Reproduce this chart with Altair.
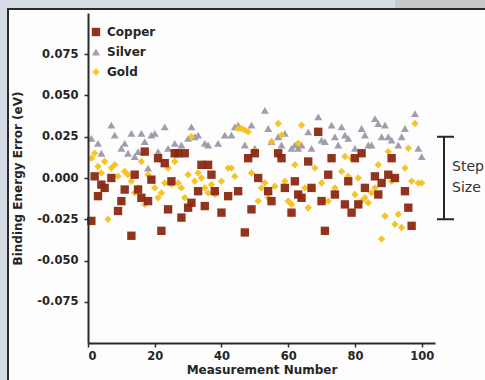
import altair as alt
import pandas as pd

# Binding energy error per measurement, one pair of lists per metal
copper_x = [1, 2, 3, 4, 5, 7, 9, 10, 11, 13, 14, 15, 16, 17, 18, 19, 21, 22, 23, 24,
            25, 26, 27, 28, 29, 30, 31, 33, 34, 35, 36, 37, 38, 40, 42, 45, 47, 48, 49, 50,
            51, 54, 55, 57, 58, 59, 61, 62, 63, 64, 66, 67, 69, 70, 71, 72, 73, 74, 77, 78,
            79, 80, 81, 82, 83, 86, 87, 88, 90, 91, 92, 95, 96, 97]
copper_y = [-0.026, 0.001, -0.011, -0.004, -0.006, 0.000, -0.020, -0.014, -0.007, -0.035,
            0.002, -0.007, -0.012, 0.016, -0.014, -0.001, 0.012, -0.032, 0.009, -0.019,
            -0.002, 0.015, 0.015, -0.024, 0.015, -0.018, -0.015, -0.008, 0.008, -0.017,
            0.008, 0.002, -0.008, -0.021, -0.011, -0.008, -0.033, 0.012, -0.019, 0.015,
            0.000, -0.008, -0.014, 0.015, 0.012, -0.006, -0.021, -0.002, -0.010, -0.012,
            0.010, -0.006, 0.028, -0.014, -0.032, 0.002, 0.012, -0.010, -0.016, -0.002,
            -0.021, 0.012, -0.016, 0.015, -0.006, 0.001, -0.010, -0.003, 0.002, 0.012,
            0.000, -0.008, -0.018, -0.029]

silver_x = [1, 3, 4, 7, 8, 10, 11, 12, 13, 14, 15, 16, 17, 18, 19, 20, 21, 23, 24, 26,
            28, 30, 31, 32, 33, 35, 36, 39, 41, 43, 44, 45, 47, 49, 50, 53, 54, 55, 57, 58,
            59, 61, 62, 63, 64, 66, 67, 69, 70, 71, 73, 74, 75, 76, 77, 78, 80, 82, 83, 84,
            85, 86, 87, 88, 89, 90, 91, 93, 94, 95, 98, 99, 100]
silver_y = [0.024, 0.021, 0.015, 0.032, 0.026, 0.018, 0.021, 0.015, 0.027, 0.013,
            0.016, 0.027, 0.022, 0.006, 0.026, 0.027, 0.016, 0.031, 0.018, 0.021,
            0.020, 0.024, 0.031, 0.025, 0.026, 0.021, 0.020, 0.021, 0.026, 0.026,
            0.031, 0.032, 0.020, 0.032, 0.018, 0.041, 0.030, 0.022, 0.025, 0.020,
            0.027, 0.018, 0.020, 0.018, 0.020, 0.028, 0.018, 0.037, 0.023, 0.022,
            0.032, 0.025, 0.020, 0.031, 0.026, 0.024, 0.018, 0.030, 0.026, 0.020,
            0.020, 0.036, 0.033, 0.025, 0.032, 0.025, 0.023, 0.020, 0.025, 0.030,
            0.039, 0.018, 0.013]

gold_x = [1, 2, 3, 4, 5, 6, 7, 8, 9, 10, 11, 12, 13, 14, 15, 16, 17, 18, 19, 20,
          21, 22, 23, 24, 25, 26, 27, 28, 29, 30, 31, 32, 33, 34, 35, 36, 37, 38, 40, 42,
          43, 44, 45, 46, 47, 48, 49, 50, 51, 52, 53, 54, 55, 56, 57, 58, 59, 60, 61, 62,
          63, 64, 65, 66, 68, 70, 72, 74, 76, 77, 78, 79, 80, 81, 82, 83, 84, 85, 86, 87,
          88, 89, 90, 91, 92, 93, 94, 95, 96, 97, 98, 99, 100]
gold_y = [0.012, 0.015, 0.007, 0.003, 0.010, -0.025, 0.006, 0.008, 0.001, -0.014,
          0.004, 0.002, -0.002, -0.009, -0.006, 0.010, -0.016, 0.002, -0.001, -0.006,
          -0.012, -0.009, -0.003, 0.006, -0.004, 0.010, -0.003, -0.006, -0.012, 0.002,
          0.025, -0.002, 0.003, 0.000, -0.006, -0.009, -0.004, -0.010, -0.002, 0.006,
          0.006, 0.001, 0.030, 0.030, 0.029, 0.028, 0.003, 0.016, -0.014, -0.006,
          -0.003, -0.012, 0.022, -0.005, 0.033, 0.026, -0.002, -0.014, -0.016, 0.008,
          0.021, 0.032, -0.006, -0.018, 0.006, -0.003, -0.014, -0.006, 0.004, 0.013,
          0.001, 0.012, -0.010, 0.000, -0.014, -0.012, -0.015, -0.009, -0.006, 0.008,
          -0.037, -0.023, 0.016, -0.002, -0.028, -0.022, -0.030, 0.006, 0.018, -0.002,
          0.033, -0.003, -0.003]

metals = ["Copper", "Silver", "Gold"]
metal_colors = ["#8c2812", "#9d97a9", "#f3c21c"]
metal_shapes = ["square", "triangle-up", "diamond"]

x_ticks = [0, 20, 40, 60, 80, 100]
y_ticks = [-0.075, -0.05, -0.025, 0.0, 0.025, 0.05, 0.075]

step_ends = [0.025, -0.025]
step_label = ["Step", "Size"]

# draw silver first, then gold, copper on top
rows = []
for layer, (name, xs, ys) in enumerate([("Silver", silver_x, silver_y),
                                         ("Gold", gold_x, gold_y),
                                         ("Copper", copper_x, copper_y)]):
    for xv, yv in zip(xs, ys):
        rows.append({"Measurement": xv, "Error": yv, "Metal": name, "layer": layer})
df = pd.DataFrame(rows)

W, H = 347, 330
FONT = "DejaVu Sans"
INK = "#262626"
EDGE = "#d6dce5"

x_scale = alt.Scale(domain=[0, 104], nice=False, zero=False)
y_scale = alt.Scale(domain=[-0.1, 0.1], nice=False)

one = pd.DataFrame({"k": [0]})

# tinted margin strips left and above the card, and the card's dark frame
left_strip = alt.Chart(one).mark_rect(fill=EDGE, clip=False).encode(
    x=alt.value(-90), x2=alt.value(-80), y=alt.value(-20), y2=alt.value(390)
)
top_strip = alt.Chart(one).mark_rect(fill=EDGE, clip=False).encode(
    x=alt.value(-90), x2=alt.value(307), y=alt.value(-20), y2=alt.value(-4)
)
corner = alt.Chart(one).mark_rect(fill="#c9c9c9", clip=False).encode(
    x=alt.value(307), x2=alt.value(420), y=alt.value(-20), y2=alt.value(-4)
)
frame = alt.Chart(one).mark_rect(fillOpacity=0, stroke="#2a2a2a", strokeWidth=2, clip=False).encode(
    x=alt.value(-80), x2=alt.value(420), y=alt.value(-4), y2=alt.value(390)
)

legend = alt.Legend(title=None, orient="none", legendX=2, legendY=13,
                    labelFont=FONT, labelFontSize=12, labelFontWeight="bold",
                    labelColor=INK, symbolSize=50, rowPadding=8, zindex=2,
                    symbolStrokeWidth=0, labelOffset=5)

points = alt.Chart(df).mark_point(filled=True, opacity=0.95).encode(
    x=alt.X("Measurement:Q", scale=x_scale,
            axis=alt.Axis(values=x_ticks, title="Measurement Number", format="d", zindex=1)),
    y=alt.Y("Error:Q", scale=y_scale,
            axis=alt.Axis(values=y_ticks, title="Binding Energy Error (eV)", zindex=1,
                          labelExpr="replace(format(datum.value, '.3f'), '\u2212', '-')")),
    color=alt.Color("Metal:N", scale=alt.Scale(domain=metals, range=metal_colors), legend=legend),
    shape=alt.Shape("Metal:N", scale=alt.Scale(domain=metals, range=metal_shapes), legend=legend),
    size=alt.Size("Metal:N", scale=alt.Scale(domain=metals, range=[70, 55, 65]), legend=None),
    order=alt.Order("layer:Q"),
)

# step size bracket spanning +/-0.025 eV
bracket = alt.Chart(pd.DataFrame({"top": [step_ends[0]], "bot": [step_ends[1]]})).mark_rule(
    color=INK, strokeWidth=2, clip=False
).encode(x=alt.value(356), y=alt.Y("top:Q", scale=y_scale), y2="bot:Q")

caps = alt.Chart(pd.DataFrame({"e": step_ends})).mark_rule(
    color=INK, strokeWidth=2, clip=False
).encode(x=alt.value(349), x2=alt.value(366), y=alt.Y("e:Q", scale=y_scale))

step_text = alt.Chart(pd.DataFrame({"t": ["\n".join(step_label)]})).mark_text(
    align="left", baseline="middle", font=FONT, fontSize=14, color="#333333",
    lineBreak="\n", lineHeight=21, clip=False
).encode(x=alt.value(364), y=alt.value(154), text="t:N")

chart = alt.layer(left_strip, top_strip, corner, frame, points, bracket, caps, step_text).properties(
    width=W, height=H,
    autosize=alt.AutoSizeParams(type="none"),
    padding={"left": 88, "top": 13, "right": 50, "bottom": 37},
    background="#fdfdfd",
).configure_view(stroke=None).configure_axis(
    grid=False, domainColor="#2a2a2a", domainWidth=2,
    tickColor="#2a2a2a", tickWidth=1.5, tickSize=4,
    labelFont=FONT, labelFontSize=11.5, labelFontWeight="bold", labelColor=INK,
    titleFont=FONT, titleFontSize=12, titleFontWeight="bold", titleColor=INK,
).configure_axisX(labelPadding=3, titlePadding=3).configure_axisY(labelPadding=6, titlePadding=12)

chart.save("out.html", embed_options={"renderer": "svg", "actions": False})
